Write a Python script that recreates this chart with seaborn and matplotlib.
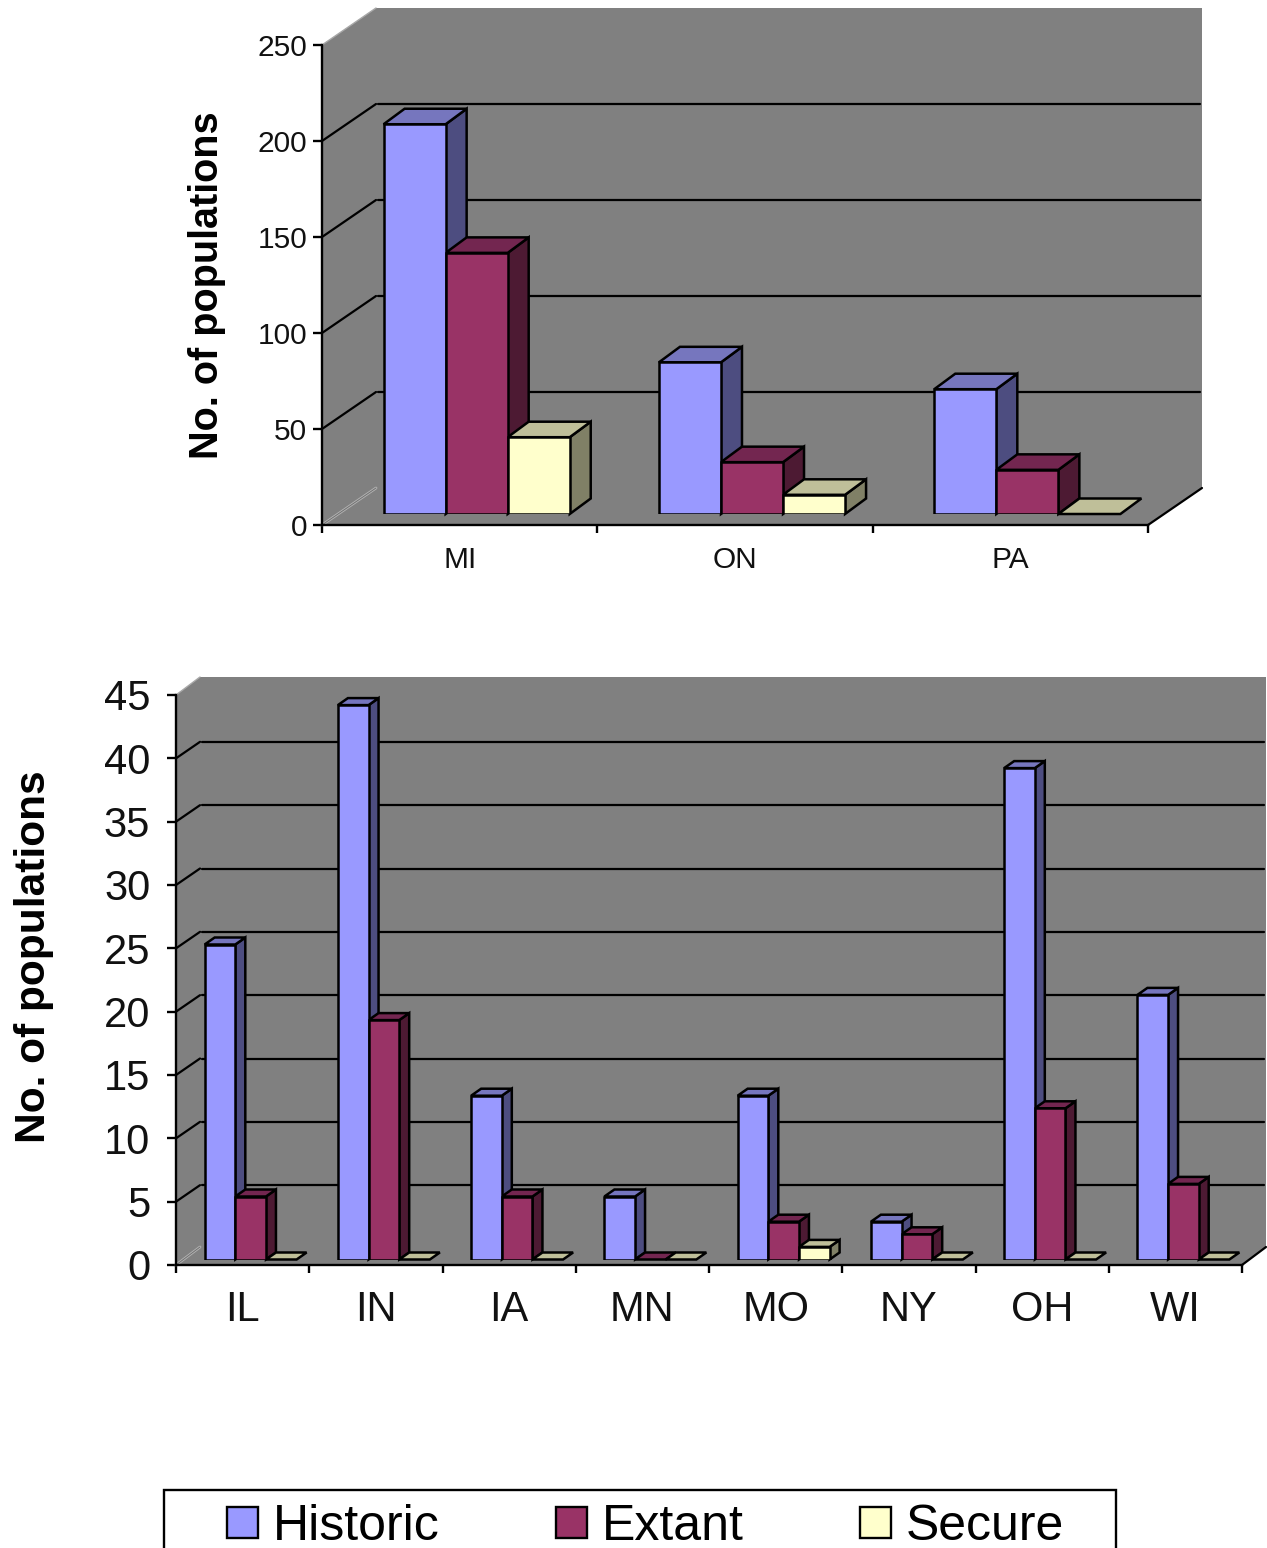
import pandas as pd
import matplotlib
matplotlib.use("Agg")
import matplotlib.pyplot as plt
import seaborn as sns
from matplotlib.patches import Patch, Polygon, Rectangle
from matplotlib.lines import Line2D
from matplotlib.transforms import IdentityTransform

# top panel
states_top = ["MI", "ON", "PA"]
historic_top = [203, 79, 65]
extant_top = [136, 27, 23]
secure_top = [40, 10, 0]

# bottom panel
states_bottom = ["IL", "IN", "IA", "MN", "MO", "NY", "OH", "WI"]
historic_bottom = [25, 44, 13, 5, 13, 3, 39, 21]
extant_bottom = [5, 19, 5, 0, 3, 2, 12, 6]
secure_bottom = [0, 0, 0, 0, 1, 0, 0, 0]

status_names = ["Historic", "Extant", "Secure"]
front_colors = ["#9999FF", "#993366", "#FFFFCC"]
side_colors = ["#4D4D80", "#4D1A33", "#808066"]
top_colors = ["#7676BE", "#732650", "#BFBF99"]
wall_color = "#808080"

W, H = 1267, 1548
sns.set_style("white")
plt.rcParams["font.family"] = ["Liberation Sans", "DejaVu Sans"]
plt.rcParams["text.color"] = "black"

fig = plt.figure(figsize=(W / 100, H / 100), dpi=100)


def px_rect(x0, x1, y_bottom, y_top):
    return [x0 / W, 1 - y_bottom / H, (x1 - x0) / W, (y_bottom - y_top) / H]


def draw_panel(states, historic, extant, secure, ymax, step, box, wall, grid_dy, plane, shrink, depth,
               bar_width, tick_size, ylab_size, ylab_xy, pad_y, pad_x):
    x0, x1, y_bottom, y_top = box
    n = len(states)

    # axes on the front plane: holds the walls, ticks and labels
    ax = fig.add_axes(px_rect(x0, x1, y_bottom, y_top))
    ax.set_xlim(0, n)
    ax.set_ylim(0, ymax)
    ax.patch.set_visible(False)
    for s in ["top", "right"]:
        ax.spines[s].set_visible(False)
    for s in ["left", "bottom"]:
        ax.spines[s].set_linewidth(1.7)
        ax.spines[s].set_color("black")
        ax.spines[s].set_zorder(5)

    yticks = list(range(0, ymax + 1, step))
    ax.set_yticks(yticks)
    ax.set_xticks(range(n + 1))
    ax.set_xticklabels([])
    ax.set_xticks([i + 0.5 for i in range(n)], states, minor=True)
    ax.tick_params(axis="y", direction="out", length=6.5, width=1.7, color="black", left=True,
                   labelsize=tick_size, pad=pad_y, labelcolor="#111111")
    ax.tick_params(axis="x", which="major", direction="out", length=6, width=1.7, color="black", bottom=True)
    ax.tick_params(axis="x", which="minor", length=0, labelsize=tick_size, pad=pad_x, labelcolor="#111111")

    def front(x, y):
        return ax.transData.transform((x, y))

    def back(x, y, dy=None):
        px, py = ax.transData.transform((x, y))
        return (px + wall[0], py + (wall[1] if dy is None else dy))

    identity = IdentityTransform()

    def edge(a, b, color="black", lw=1.6):
        ax.add_line(Line2D([a[0], b[0]], [a[1], b[1]], color=color, lw=lw, transform=identity,
                           zorder=1, clip_on=False))

    # walls and floor as one outline, so no seams show
    outline = [front(0, 0), front(n, 0), back(n, 0), back(n, ymax), back(0, ymax), front(0, ymax)]
    ax.add_patch(Polygon(outline, closed=True, facecolor=wall_color, edgecolor="none",
                         transform=identity, zorder=0, clip_on=False))

    # grid on the side and back walls
    for v in yticks[1:-1]:
        edge(front(0, v), back(0, v, grid_dy))
        c, d = back(0, v, grid_dy), back(n, v, grid_dy)
        edge((c[0] + 2, c[1]), (d[0] - 2, d[1]))
    # light edges
    edge(front(0, ymax), back(0, ymax), color="#A8A8A8", lw=1.0)
    edge(front(0, 0), back(0, 0), color="#B4B4B4", lw=2.0)
    edge(front(0, 0), back(0, 0), color="#707070", lw=0.7)
    edge(front(n, 0), back(n, 0))

    # axes on the bar plane, a little behind the front
    ax_bar = fig.add_axes(px_rect(x0 + plane[0], x1 + plane[0], y_bottom - plane[1], y_top - plane[1] + shrink))
    ax_bar.patch.set_visible(False)
    df = pd.DataFrame({
        "state": states * 3,
        "status": [s for s in status_names for _ in states],
        "count": list(historic) + list(extant) + list(secure),
    })
    sns.barplot(data=df, x="state", y="count", hue="status", order=states, hue_order=status_names,
                palette=front_colors, saturation=1, width=bar_width, edgecolor="black", linewidth=1.8,
                errorbar=None, legend=False, ax=ax_bar)
    ax_bar.set_xlim(-0.5, n - 0.5)
    ax_bar.set_ylim(0, ymax)
    ax_bar.set_axis_off()

    # side and top faces come from the bars seaborn drew
    fronts = list(ax_bar.patches)
    for i, bar in enumerate(fronts):
        hue = i // n
        bar.set_zorder(10)
        bx = bar.get_x()
        bw = bar.get_width()
        bh = bar.get_height()
        (l, b) = ax_bar.transData.transform((bx, 0))
        (r, t) = ax_bar.transData.transform((bx + bw, bh))
        dx, dy = depth
        if bh > 0:
            ax_bar.add_patch(Polygon([(r, b), (r + dx, b + dy), (r + dx, t + dy), (r, t)], closed=True,
                                     facecolor=side_colors[hue], edgecolor="black", linewidth=1.8,
                                     transform=identity, clip_on=False, zorder=3 + hue))
        ax_bar.add_patch(Polygon([(l, t), (r, t), (r + dx, t + dy), (l + dx, t + dy)], closed=True,
                                 facecolor=top_colors[hue], edgecolor="black", linewidth=1.8,
                                 transform=identity, clip_on=False, zorder=3 + hue))
    ax_bar.set_xlim(-0.5, n - 0.5)
    ax_bar.set_ylim(0, ymax)

    fig.text(ylab_xy[0] / W, 1 - ylab_xy[1] / H, "No. of populations", rotation=90, ha="center", va="center",
             fontsize=ylab_size, fontweight="bold", color="black")


draw_panel(states_top, historic_top, extant_top, secure_top, 250, 50,
           box=(322, 1148, 525, 45), wall=(54, 37), grid_dy=37, plane=(17, 11), shrink=0, depth=(21, 15.5),
           bar_width=0.676, tick_size=21.5, ylab_size=28.5, ylab_xy=(207.5, 285), pad_y=4, pad_x=15)

draw_panel(states_bottom, historic_bottom, extant_bottom, secure_bottom, 45, 5,
           box=(176, 1242, 1265, 695), wall=(24, 18), grid_dy=16.5, plane=(8, 5.5), shrink=3, depth=(10, 7),
           bar_width=0.69, tick_size=30, ylab_size=30.6, ylab_xy=(34, 957), pad_y=12, pad_x=18)

# legend box runs off the bottom of the page
fig.add_artist(Rectangle((164 / W, 1 - 1570 / H), (1116 - 164) / W, 80 / H, transform=fig.transFigure,
                         facecolor="white", edgecolor="black", linewidth=1.7, clip_on=True))
handles = [Patch(facecolor=c, edgecolor="black", linewidth=1.7) for c in front_colors]
leg = fig.legend(handles, status_names, ncol=3, loc="upper left",
                 bbox_to_anchor=(227 / W, 1 - 1504 / H), fontsize=36, frameon=False, borderpad=0, borderaxespad=0,
                 handlelength=0.62, handleheight=0.6, handletextpad=0.3, columnspacing=2.32,
                 labelspacing=0, labelcolor="black")

fig.savefig("out.png", dpi=100, facecolor="white")
